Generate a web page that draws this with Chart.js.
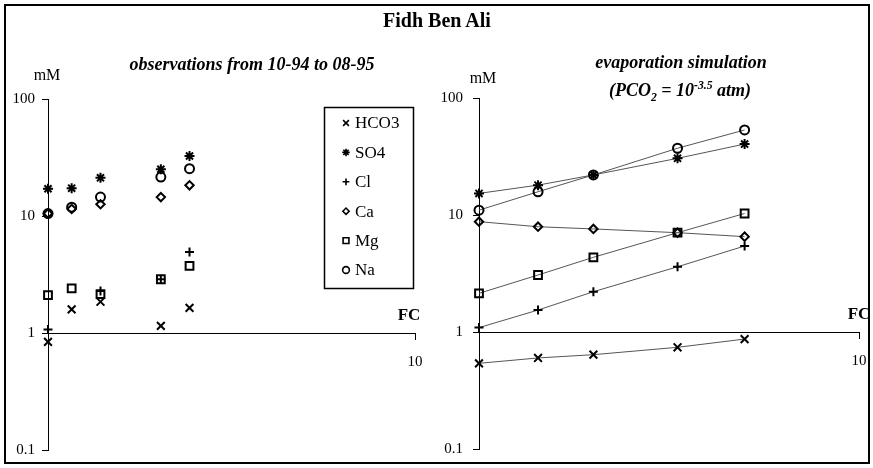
<!DOCTYPE html>
<html>
<head>
<meta charset="utf-8">
<script src="https://cdn.jsdelivr.net/npm/chart.js@4.4.1/dist/chart.umd.min.js"></script>
<style>
  html, body { margin: 0; padding: 0; background: #fff; }
  #wrap { position: relative; width: 873px; height: 468px; overflow: hidden; }
  #frame { position: absolute; left: 4px; top: 4px; width: 862px; height: 456px; border: 2px solid #000; }
  canvas { position: absolute; top: 0; }
  .t { position: absolute; font-family: 'Liberation Serif', 'Times New Roman', serif; color: #000;
       white-space: nowrap; transform: translate(-50%, -50%); line-height: 1; }
  .b { font-weight: bold; }
  .bi { font-weight: bold; font-style: italic; }
  sub, sup { font-size: 65%; line-height: 0; }
</style>
</head>
<body>
<div id="wrap">
  <div id="frame"></div>
  <canvas id="obs" width="436" height="468" style="left:0;width:436px;height:468px"></canvas>
  <canvas id="sim" width="437" height="468" style="left:436px;width:437px;height:468px"></canvas>

  <div class="t b" style="left:437px;top:20px;font-size:20px">Fidh Ben Ali</div>
  <div class="t bi" style="left:252px;top:64px;font-size:18px">observations from 10-94 to 08-95</div>
  <div class="t bi" style="left:681px;top:62px;font-size:18px">evaporation simulation</div>
  <div class="t bi" style="left:680px;top:90px;font-size:18px">(PCO<sub>2</sub> = 10<sup>-3.5</sup> atm)</div>
  <div class="t" style="left:47px;top:75px;font-size:16px">mM</div>
  <div class="t" style="left:483px;top:78px;font-size:16px">mM</div>
  <div class="t b" style="left:409px;top:314px;font-size:17px">FC</div>
  <div class="t b" style="left:859px;top:313px;font-size:17px">FC</div>
</div>

<script>
// species and tick labels
var species = ['HCO3', 'SO4', 'Cl', 'Ca', 'Mg', 'Na'];
var yTicks = [0.1, 1, 10, 100];
var xTicks = [10];

// observations 10-94 .. 08-95
var obsFC   = [1.0, 1.16, 1.39, 2.03, 2.43];
var obsHCO3 = [0.84, 1.59, 1.85, 1.15, 1.64];
var obsSO4  = [17.1, 17.3, 21.2, 25.1, 32.6];
var obsCl   = [1.07, null, 2.29, 2.88, 4.92];
var obsCa   = [10.5, 11.5, 12.6, 14.5, 18.3];
var obsMg   = [2.11, 2.41, 2.15, 2.88, 3.74];
var obsNa   = [10.5, 11.9, 14.5, 21.5, 25.4];

// evaporation simulation
var simFC   = [1.0, 1.43, 2.0, 3.33, 5.0];
var simHCO3 = [0.54, 0.60, 0.64, 0.74, 0.87];
var simSO4  = [15.3, 18.0, 22.0, 30.5, 40.4];
var simCl   = [1.09, 1.54, 2.21, 3.61, 5.43];
var simCa   = [8.77, 7.94, 7.6, 7.06, 6.53];
var simMg   = [2.14, 3.07, 4.35, 7.06, 10.3];
var simNa   = [11.0, 15.8, 22.0, 37.2, 53.3];

var markers = {
    HCO3: { pointStyle: 'crossRot', radius: 5.5 },
    SO4:  { pointStyle: 'star', radius: 5 },
    Cl:   { pointStyle: 'cross', radius: 4.5 },
    Ca:   { pointStyle: 'rectRot', radius: 4.2 },
    Mg:   { pointStyle: 'rect', radius: 5.5 },
    Na:   { pointStyle: 'circle', radius: 4.5 }
};

Chart.defaults.font.family = "'Liberation Serif', 'Times New Roman', serif";
Chart.defaults.font.size = 15;
Chart.defaults.color = '#000';

function points(xs, ys) {
    var out = [];
    for (var i = 0; i < xs.length; i++) {
        if (ys[i] !== null) out.push({ x: xs[i], y: ys[i] });
    }
    return out;
}

function buildSets(xs, series, withLine) {
    return species.map(function (name, i) {
        var m = markers[name];
        return {
            label: name,
            data: points(xs, series[i]),
            showLine: withLine,
            borderColor: '#555',
            borderWidth: 1,
            pointStyle: m.pointStyle,
            pointRadius: m.radius,
            pointHoverRadius: m.radius,
            pointBorderColor: '#000',
            pointBackgroundColor: 'rgba(255,255,255,0)',
            pointBorderWidth: 2,
            clip: false
        };
    });
}

// legend box inside the observation panel
var boxLegend = {
    id: 'boxLegend',
    afterDraw: function (chart) {
        if (chart.canvas.id !== 'obs') return;
        var ctx = chart.ctx;
        ctx.save();
        ctx.strokeStyle = '#000';
        ctx.lineWidth = 1.5;
        ctx.strokeRect(324.5, 107.5, 89, 181);
        ctx.font = "17px 'Liberation Serif', serif";
        ctx.textBaseline = 'middle';
        species.forEach(function (name, i) {
            var y = 123 + i * 29.4;
            var m = markers[name];
            ctx.lineWidth = 1.6;
            ctx.strokeStyle = '#000';
            ctx.fillStyle = 'rgba(255,255,255,0)';
            if (Chart.helpers && Chart.helpers.drawPoint) {
                Chart.helpers.drawPoint(ctx, {
                    pointStyle: m.pointStyle,
                    radius: m.radius * 0.75,
                    rotation: 0,
                    borderWidth: 1.6
                }, 346, y);
            } else {
                ctx.beginPath();
                ctx.arc(346, y, 3.5, 0, Math.PI * 2);
                ctx.stroke();
            }
            ctx.fillStyle = '#000';
            ctx.fillText(name, 355, y + 1);
        });
        ctx.restore();
    }
};

function makePanel(id, sets, yWidth, yPad, pad) {
    return new Chart(document.getElementById(id), {
        type: 'scatter',
        data: { datasets: sets },
        plugins: [boxLegend],
        options: {
            responsive: false,
            animation: false,
            layout: { padding: pad },
            plugins: { legend: { display: false }, tooltip: { enabled: false } },
            scales: {
                x: {
                    type: 'logarithmic',
                    min: 1,
                    max: 10,
                    position: { y: 1 },
                    afterBuildTicks: function (scale) {
                        scale.ticks = xTicks.map(function (v) { return { value: v }; });
                    },
                    ticks: {
                        padding: 0,
                        callback: function (v) { return String(v); }
                    },
                    // long tick slot pushes the label down, dash keeps only a short visible mark
                    grid: { drawOnChartArea: false, drawTicks: true, tickLength: 20, color: '#000',
                            tickBorderDash: [6, 40] },
                    border: { display: true, color: '#000', width: 1 }
                },
                y: {
                    type: 'logarithmic',
                    min: 0.1,
                    max: 100,
                    position: 'left',
                    afterBuildTicks: function (scale) {
                        scale.ticks = yTicks.map(function (v) { return { value: v }; });
                    },
                    afterFit: function (scale) { scale.width = yWidth; },
                    ticks: {
                        padding: yPad,
                        callback: function (v) { return String(v); }
                    },
                    grid: { drawOnChartArea: false, drawTicks: true, tickLength: 6, color: '#000' },
                    border: { display: true, color: '#000', width: 1 }
                }
            }
        }
    });
}

makePanel('obs',
    buildSets(obsFC, [obsHCO3, obsSO4, obsCl, obsCa, obsMg, obsNa], false),
    48, 7, { left: 0, top: 99, right: 21, bottom: 18 });

makePanel('sim',
    buildSets(simFC, [simHCO3, simSO4, simCl, simCa, simMg, simNa], true),
    43, 10, { left: 0, top: 98, right: 14, bottom: 18 });
</script>
</body>
</html>
